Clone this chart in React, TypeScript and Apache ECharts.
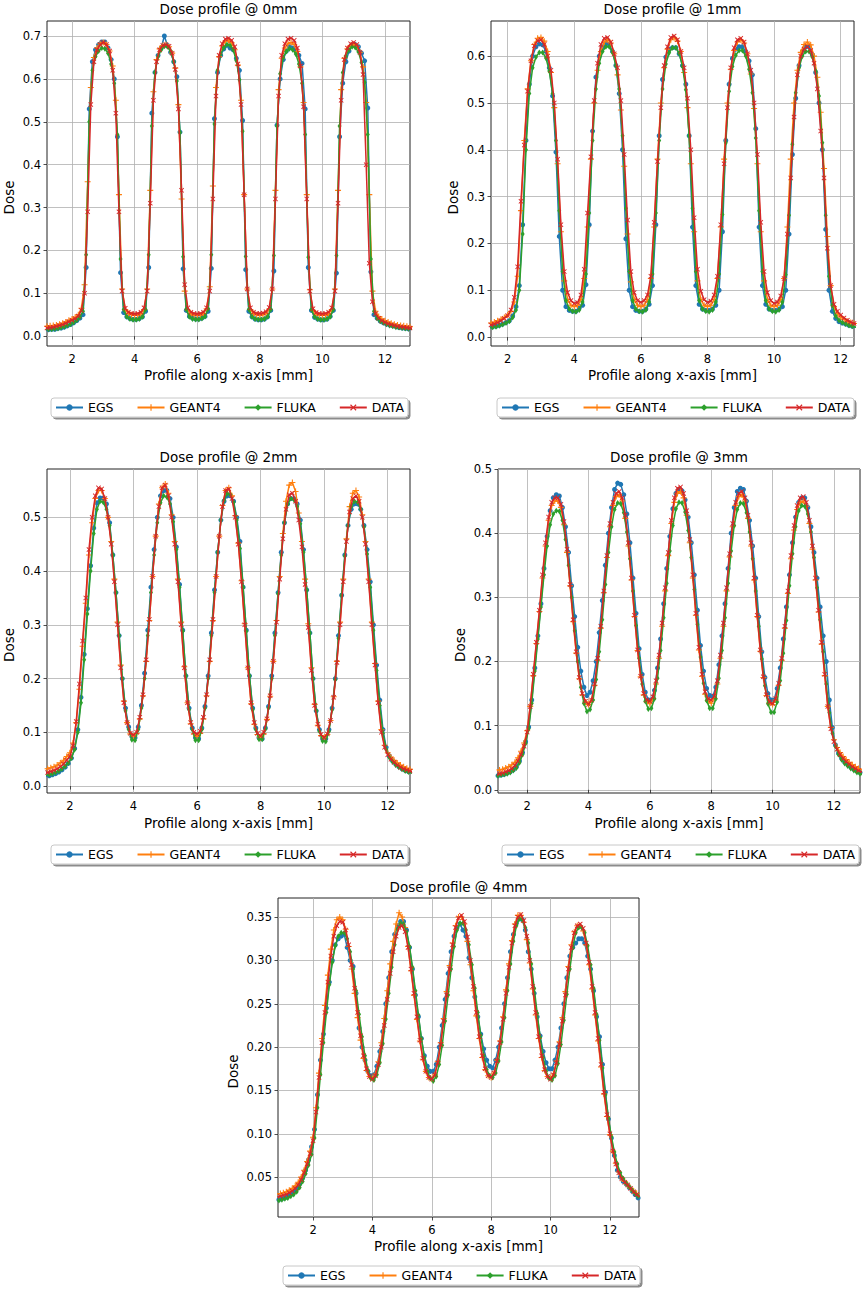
import React, { useEffect, useRef } from "react";
import * as echarts from "echarts";

// ---- sample positions along x (mm) ----
const X_A = [
  0.85, 0.95, 1.05, 1.15, 1.25, 1.35, 1.45, 1.55, 1.65, 1.75, 1.85, 1.95,
  2.05, 2.15, 2.25, 2.35, 2.45, 2.55, 2.65, 2.75, 2.85, 2.95, 3.05, 3.15, 3.25, 3.35, 3.45, 3.55, 3.65, 3.75, 3.85, 3.95,
  4.05, 4.15, 4.25, 4.35, 4.45, 4.55, 4.65, 4.75, 4.85, 4.95, 5.05, 5.15, 5.25, 5.35, 5.45, 5.55, 5.65, 5.75, 5.85, 5.95,
  6.05, 6.15, 6.25, 6.35, 6.45, 6.55, 6.65, 6.75, 6.85, 6.95, 7.05, 7.15, 7.25, 7.35, 7.45, 7.55, 7.65, 7.75, 7.85, 7.95,
  8.05, 8.15, 8.25, 8.35, 8.45, 8.55, 8.65, 8.75, 8.85, 8.95, 9.05, 9.15, 9.25, 9.35, 9.45, 9.55, 9.65, 9.75, 9.85, 9.95,
  10.05, 10.15, 10.25, 10.35, 10.45, 10.55, 10.65, 10.75, 10.85, 10.95, 11.05, 11.15, 11.25, 11.35, 11.45, 11.55, 11.65, 11.75, 11.85, 11.95,
  12.05, 12.15, 12.25, 12.35, 12.45, 12.55, 12.65, 12.75, 12.85, 12.95,
];
const X_B = [
  0.8, 0.9, 1.0, 1.1, 1.2, 1.3, 1.4, 1.5, 1.6, 1.7, 1.8, 1.9,
  2.0, 2.1, 2.2, 2.3, 2.4, 2.5, 2.6, 2.7, 2.8, 2.9, 3.0, 3.1, 3.2, 3.3, 3.4, 3.5, 3.6, 3.7, 3.8, 3.9,
  4.0, 4.1, 4.2, 4.3, 4.4, 4.5, 4.6, 4.7, 4.8, 4.9, 5.0, 5.1, 5.2, 5.3, 5.4, 5.5, 5.6, 5.7, 5.8, 5.9,
  6.0, 6.1, 6.2, 6.3, 6.4, 6.5, 6.6, 6.7, 6.8, 6.9, 7.0, 7.1, 7.2, 7.3, 7.4, 7.5, 7.6, 7.7, 7.8, 7.9,
  8.0, 8.1, 8.2, 8.3, 8.4, 8.5, 8.6, 8.7, 8.8, 8.9, 9.0, 9.1, 9.2, 9.3, 9.4, 9.5, 9.6, 9.7, 9.8, 9.9,
  10.0, 10.1, 10.2, 10.3, 10.4, 10.5, 10.6, 10.7, 10.8, 10.9, 11.0, 11.1, 11.2, 11.3, 11.4, 11.5, 11.6, 11.7, 11.8, 11.9,
  12.0, 12.1, 12.2, 12.3, 12.4, 12.5, 12.6, 12.7, 12.8, 12.9, 13.0,
];

// ---- Dose profile @ 0mm ----
const EGS_0MM = [
  0.013, 0.013, 0.014, 0.014, 0.015, 0.016, 0.016, 0.018, 0.019, 0.021, 0.024, 0.027,
  0.031, 0.036, 0.042, 0.05, 0.16, 0.53, 0.64, 0.668, 0.68, 0.686, 0.686, 0.672, 0.645, 0.6, 0.465, 0.148, 0.055, 0.045, 0.041, 0.039,
  0.039, 0.041, 0.045, 0.058, 0.16, 0.52, 0.615, 0.655, 0.672, 0.7, 0.678, 0.662, 0.64, 0.605, 0.476, 0.157, 0.06, 0.046, 0.042, 0.04,
  0.04, 0.042, 0.046, 0.058, 0.158, 0.507, 0.615, 0.655, 0.67, 0.678, 0.672, 0.668, 0.648, 0.62, 0.503, 0.155, 0.058, 0.045, 0.04, 0.038,
  0.038, 0.04, 0.045, 0.06, 0.152, 0.492, 0.6, 0.645, 0.665, 0.675, 0.672, 0.668, 0.655, 0.636, 0.53, 0.16, 0.06, 0.044, 0.04, 0.038,
  0.038, 0.04, 0.046, 0.06, 0.147, 0.465, 0.59, 0.64, 0.665, 0.678, 0.68, 0.675, 0.66, 0.642, 0.532, 0.15, 0.05, 0.042, 0.035, 0.031,
  0.028, 0.026, 0.024, 0.022, 0.02, 0.019, 0.018, 0.017, 0.016, 0.016,
];
const GEANT4_0MM = [
  0.02, 0.021, 0.022, 0.022, 0.023, 0.024, 0.025, 0.026, 0.028, 0.03, 0.033, 0.037,
  0.04, 0.044, 0.05, 0.065, 0.12, 0.36, 0.58, 0.65, 0.672, 0.682, 0.685, 0.68, 0.665, 0.63, 0.55, 0.33, 0.11, 0.062, 0.053, 0.05,
  0.048, 0.049, 0.052, 0.062, 0.11, 0.34, 0.57, 0.645, 0.67, 0.678, 0.68, 0.675, 0.66, 0.625, 0.54, 0.32, 0.105, 0.06, 0.052, 0.049,
  0.048, 0.049, 0.053, 0.064, 0.115, 0.35, 0.58, 0.652, 0.677, 0.688, 0.69, 0.684, 0.668, 0.632, 0.55, 0.33, 0.11, 0.062, 0.053, 0.05,
  0.049, 0.05, 0.053, 0.063, 0.11, 0.34, 0.575, 0.648, 0.672, 0.682, 0.685, 0.68, 0.664, 0.628, 0.545, 0.33, 0.108, 0.06, 0.052, 0.049,
  0.048, 0.049, 0.052, 0.062, 0.11, 0.34, 0.575, 0.648, 0.67, 0.678, 0.68, 0.676, 0.662, 0.628, 0.545, 0.33, 0.105, 0.058, 0.046, 0.04,
  0.036, 0.033, 0.03, 0.028, 0.026, 0.025, 0.024, 0.023, 0.022, 0.021, 0.02,
];
const FLUKA_0MM = [
  0.014, 0.014, 0.015, 0.015, 0.016, 0.016, 0.017, 0.018, 0.02, 0.022, 0.025, 0.028,
  0.032, 0.037, 0.044, 0.058, 0.19, 0.5, 0.62, 0.652, 0.665, 0.672, 0.67, 0.66, 0.635, 0.59, 0.47, 0.18, 0.062, 0.045, 0.04, 0.038,
  0.038, 0.04, 0.045, 0.062, 0.19, 0.49, 0.615, 0.652, 0.668, 0.676, 0.675, 0.665, 0.64, 0.595, 0.475, 0.185, 0.063, 0.045, 0.04, 0.039,
  0.039, 0.041, 0.046, 0.064, 0.19, 0.495, 0.62, 0.658, 0.673, 0.68, 0.678, 0.668, 0.643, 0.598, 0.478, 0.186, 0.063, 0.045, 0.04, 0.039,
  0.039, 0.04, 0.045, 0.062, 0.188, 0.49, 0.612, 0.65, 0.664, 0.67, 0.668, 0.658, 0.635, 0.59, 0.47, 0.184, 0.062, 0.045, 0.04, 0.038,
  0.038, 0.04, 0.045, 0.062, 0.188, 0.49, 0.615, 0.653, 0.668, 0.675, 0.673, 0.663, 0.638, 0.592, 0.47, 0.18, 0.058, 0.042, 0.035, 0.031,
  0.028, 0.025, 0.023, 0.021, 0.02, 0.019, 0.018, 0.017, 0.016, 0.016,
];
const DATA_0MM = [
  0.017, 0.017, 0.018, 0.018, 0.019, 0.02, 0.021, 0.023, 0.025, 0.027, 0.03, 0.034,
  0.037, 0.041, 0.047, 0.06, 0.1, 0.29, 0.54, 0.64, 0.668, 0.68, 0.685, 0.68, 0.665, 0.62, 0.52, 0.29, 0.105, 0.065, 0.056, 0.053,
  0.052, 0.053, 0.056, 0.066, 0.105, 0.31, 0.55, 0.64, 0.668, 0.678, 0.68, 0.676, 0.66, 0.622, 0.53, 0.34, 0.12, 0.066, 0.056, 0.053,
  0.052, 0.053, 0.056, 0.066, 0.105, 0.32, 0.56, 0.655, 0.682, 0.693, 0.695, 0.69, 0.675, 0.635, 0.54, 0.33, 0.11, 0.066, 0.056, 0.053,
  0.053, 0.054, 0.057, 0.067, 0.11, 0.32, 0.56, 0.655, 0.682, 0.693, 0.695, 0.69, 0.672, 0.63, 0.535, 0.32, 0.105, 0.064, 0.055, 0.053,
  0.052, 0.053, 0.056, 0.066, 0.105, 0.31, 0.55, 0.645, 0.672, 0.682, 0.685, 0.68, 0.662, 0.61, 0.4, 0.17, 0.08, 0.052, 0.042, 0.036,
  0.032, 0.029, 0.027, 0.025, 0.023, 0.022, 0.021, 0.02, 0.019, 0.018, 0.018,
];

// ---- Dose profile @ 1mm ----
const EGS_1MM = [
  0.016, 0.017, 0.017, 0.018, 0.019, 0.02, 0.021, 0.022, 0.023, 0.025, 0.028, 0.031,
  0.035, 0.045, 0.065, 0.11, 0.24, 0.42, 0.54, 0.6, 0.62, 0.626, 0.624, 0.61, 0.575, 0.515, 0.395, 0.215, 0.1, 0.065, 0.057, 0.055,
  0.055, 0.062, 0.068, 0.112, 0.24, 0.44, 0.555, 0.6, 0.62, 0.627, 0.625, 0.61, 0.58, 0.52, 0.4, 0.21, 0.1, 0.065, 0.057, 0.055,
  0.055, 0.06, 0.07, 0.11, 0.24, 0.43, 0.55, 0.598, 0.615, 0.618, 0.618, 0.605, 0.58, 0.54, 0.43, 0.235, 0.11, 0.07, 0.06, 0.057,
  0.057, 0.06, 0.068, 0.1, 0.225, 0.42, 0.54, 0.595, 0.615, 0.62, 0.62, 0.61, 0.59, 0.56, 0.445, 0.235, 0.11, 0.07, 0.06, 0.057,
  0.057, 0.06, 0.065, 0.1, 0.22, 0.39, 0.51, 0.58, 0.61, 0.62, 0.62, 0.603, 0.565, 0.5, 0.4, 0.23, 0.1, 0.055, 0.04, 0.033,
  0.03, 0.028, 0.025, 0.023, 0.021, 0.02, 0.019, 0.018, 0.017, 0.016,
];
const GEANT4_1MM = [
  0.024, 0.025, 0.025, 0.026, 0.027, 0.028, 0.029, 0.03, 0.032, 0.035, 0.038, 0.042,
  0.047, 0.055, 0.075, 0.13, 0.27, 0.42, 0.53, 0.59, 0.625, 0.638, 0.64, 0.632, 0.61, 0.565, 0.49, 0.37, 0.225, 0.12, 0.08, 0.068,
  0.065, 0.068, 0.08, 0.125, 0.235, 0.38, 0.5, 0.57, 0.61, 0.63, 0.635, 0.628, 0.605, 0.56, 0.485, 0.365, 0.22, 0.118, 0.08, 0.068,
  0.065, 0.068, 0.08, 0.125, 0.235, 0.38, 0.5, 0.575, 0.615, 0.635, 0.64, 0.632, 0.61, 0.565, 0.49, 0.37, 0.225, 0.12, 0.08, 0.068,
  0.065, 0.068, 0.08, 0.125, 0.235, 0.38, 0.5, 0.572, 0.612, 0.63, 0.635, 0.628, 0.605, 0.562, 0.488, 0.37, 0.225, 0.12, 0.08, 0.068,
  0.065, 0.068, 0.08, 0.125, 0.235, 0.38, 0.5, 0.57, 0.608, 0.625, 0.63, 0.624, 0.6, 0.555, 0.48, 0.36, 0.215, 0.11, 0.065, 0.05,
  0.043, 0.038, 0.034, 0.031, 0.029, 0.027, 0.026, 0.025, 0.024, 0.023, 0.022,
];
const FLUKA_1MM = [
  0.015, 0.016, 0.016, 0.017, 0.018, 0.019, 0.02, 0.021, 0.022, 0.024, 0.027, 0.03,
  0.034, 0.042, 0.058, 0.1, 0.22, 0.4, 0.52, 0.575, 0.598, 0.608, 0.608, 0.596, 0.568, 0.52, 0.42, 0.27, 0.14, 0.078, 0.06, 0.055,
  0.054, 0.058, 0.075, 0.135, 0.265, 0.42, 0.53, 0.585, 0.61, 0.62, 0.62, 0.608, 0.58, 0.53, 0.43, 0.275, 0.14, 0.078, 0.06, 0.055,
  0.054, 0.058, 0.075, 0.135, 0.265, 0.42, 0.53, 0.583, 0.607, 0.618, 0.618, 0.606, 0.578, 0.528, 0.43, 0.275, 0.14, 0.078, 0.06, 0.055,
  0.054, 0.058, 0.075, 0.135, 0.262, 0.415, 0.525, 0.578, 0.602, 0.612, 0.612, 0.6, 0.572, 0.522, 0.425, 0.27, 0.14, 0.078, 0.06, 0.055,
  0.054, 0.058, 0.075, 0.133, 0.26, 0.412, 0.522, 0.575, 0.6, 0.61, 0.61, 0.598, 0.568, 0.515, 0.415, 0.26, 0.13, 0.068, 0.045, 0.036,
  0.031, 0.028, 0.025, 0.023, 0.021, 0.02, 0.019, 0.018, 0.017, 0.016,
];
const DATA_1MM = [
  0.02, 0.021, 0.021, 0.022, 0.023, 0.024, 0.025, 0.026, 0.028, 0.031, 0.035, 0.04,
  0.046, 0.058, 0.085, 0.15, 0.29, 0.41, 0.525, 0.59, 0.622, 0.633, 0.635, 0.625, 0.6, 0.57, 0.5, 0.38, 0.24, 0.14, 0.095, 0.078,
  0.072, 0.074, 0.09, 0.145, 0.265, 0.385, 0.505, 0.585, 0.625, 0.638, 0.64, 0.63, 0.605, 0.575, 0.505, 0.39, 0.25, 0.14, 0.095, 0.078,
  0.074, 0.078, 0.09, 0.13, 0.245, 0.375, 0.49, 0.58, 0.62, 0.64, 0.643, 0.635, 0.61, 0.575, 0.51, 0.4, 0.255, 0.145, 0.098, 0.08,
  0.074, 0.077, 0.09, 0.13, 0.24, 0.37, 0.49, 0.575, 0.618, 0.635, 0.638, 0.63, 0.605, 0.57, 0.5, 0.39, 0.245, 0.14, 0.095, 0.078,
  0.072, 0.075, 0.088, 0.125, 0.22, 0.34, 0.47, 0.56, 0.6, 0.615, 0.62, 0.612, 0.585, 0.53, 0.44, 0.34, 0.19, 0.11, 0.07, 0.055,
  0.047, 0.041, 0.036, 0.032, 0.029, 0.027, 0.025, 0.024, 0.023, 0.022, 0.021,
];

// ---- Dose profile @ 2mm ----
const EGS_2MM = [
  0.014, 0.015, 0.016, 0.017, 0.018, 0.019, 0.021, 0.023, 0.026, 0.03, 0.035, 0.042,
  0.052, 0.07, 0.105, 0.165, 0.245, 0.33, 0.41, 0.48, 0.527, 0.536, 0.536, 0.525, 0.49, 0.43, 0.36, 0.28, 0.2, 0.145, 0.11, 0.092,
  0.09, 0.11, 0.15, 0.21, 0.29, 0.37, 0.44, 0.5, 0.54, 0.55, 0.55, 0.535, 0.5, 0.445, 0.375, 0.29, 0.205, 0.145, 0.108, 0.09,
  0.088, 0.108, 0.148, 0.205, 0.285, 0.365, 0.435, 0.495, 0.53, 0.54, 0.54, 0.53, 0.5, 0.455, 0.37, 0.29, 0.205, 0.145, 0.108, 0.09,
  0.088, 0.108, 0.148, 0.205, 0.285, 0.36, 0.435, 0.49, 0.525, 0.535, 0.535, 0.525, 0.495, 0.44, 0.365, 0.285, 0.2, 0.14, 0.105, 0.088,
  0.088, 0.105, 0.145, 0.2, 0.28, 0.355, 0.43, 0.485, 0.515, 0.525, 0.525, 0.515, 0.485, 0.44, 0.38, 0.3, 0.225, 0.16, 0.105, 0.072,
  0.056, 0.047, 0.041, 0.036, 0.032, 0.029, 0.027, 0.025, 0.023, 0.022,
];
const GEANT4_2MM = [
  0.028, 0.029, 0.03, 0.03, 0.031, 0.032, 0.034, 0.036, 0.039, 0.043, 0.048, 0.055,
  0.062, 0.08, 0.118, 0.18, 0.26, 0.34, 0.43, 0.49, 0.535, 0.55, 0.55, 0.535, 0.5, 0.455, 0.385, 0.305, 0.225, 0.158, 0.118, 0.097,
  0.092, 0.098, 0.125, 0.168, 0.232, 0.308, 0.39, 0.465, 0.525, 0.555, 0.562, 0.545, 0.505, 0.455, 0.385, 0.305, 0.222, 0.155, 0.116, 0.097,
  0.092, 0.098, 0.125, 0.168, 0.232, 0.308, 0.39, 0.465, 0.522, 0.55, 0.555, 0.54, 0.503, 0.452, 0.382, 0.302, 0.22, 0.153, 0.115, 0.096,
  0.09, 0.097, 0.124, 0.167, 0.232, 0.308, 0.39, 0.47, 0.53, 0.56, 0.565, 0.548, 0.508, 0.455, 0.385, 0.302, 0.22, 0.152, 0.113, 0.094,
  0.09, 0.096, 0.122, 0.166, 0.232, 0.305, 0.385, 0.46, 0.52, 0.545, 0.55, 0.538, 0.505, 0.455, 0.385, 0.305, 0.228, 0.158, 0.105, 0.076,
  0.062, 0.054, 0.048, 0.043, 0.039, 0.036, 0.033, 0.031, 0.029, 0.028, 0.027,
];
const FLUKA_2MM = [
  0.016, 0.017, 0.018, 0.019, 0.02, 0.021, 0.023, 0.025, 0.028, 0.032, 0.037, 0.043,
  0.052, 0.068, 0.1, 0.155, 0.235, 0.32, 0.4, 0.47, 0.515, 0.53, 0.528, 0.515, 0.485, 0.43, 0.36, 0.28, 0.2, 0.14, 0.105, 0.086,
  0.085, 0.105, 0.145, 0.2, 0.28, 0.36, 0.43, 0.49, 0.527, 0.54, 0.538, 0.525, 0.492, 0.44, 0.37, 0.288, 0.205, 0.142, 0.105, 0.085,
  0.085, 0.105, 0.145, 0.2, 0.28, 0.36, 0.435, 0.495, 0.532, 0.545, 0.542, 0.528, 0.495, 0.442, 0.37, 0.288, 0.205, 0.142, 0.105, 0.087,
  0.087, 0.106, 0.145, 0.2, 0.28, 0.358, 0.43, 0.49, 0.525, 0.535, 0.533, 0.52, 0.488, 0.435, 0.365, 0.285, 0.2, 0.14, 0.102, 0.084,
  0.083, 0.102, 0.142, 0.198, 0.275, 0.355, 0.428, 0.485, 0.52, 0.53, 0.528, 0.515, 0.482, 0.432, 0.37, 0.29, 0.215, 0.15, 0.098, 0.068,
  0.053, 0.045, 0.039, 0.035, 0.031, 0.028, 0.026, 0.024, 0.022, 0.021,
];
const DATA_2MM = [
  0.02, 0.021, 0.022, 0.023, 0.024, 0.025, 0.027, 0.029, 0.032, 0.036, 0.041, 0.048,
  0.055, 0.075, 0.12, 0.19, 0.27, 0.35, 0.44, 0.5, 0.54, 0.555, 0.553, 0.535, 0.5, 0.45, 0.38, 0.3, 0.22, 0.155, 0.118, 0.098,
  0.095, 0.1, 0.128, 0.17, 0.235, 0.31, 0.39, 0.465, 0.52, 0.555, 0.56, 0.54, 0.5, 0.45, 0.38, 0.3, 0.22, 0.155, 0.118, 0.1,
  0.097, 0.102, 0.128, 0.17, 0.235, 0.31, 0.39, 0.465, 0.52, 0.55, 0.553, 0.535, 0.5, 0.45, 0.38, 0.3, 0.22, 0.155, 0.118, 0.098,
  0.093, 0.1, 0.125, 0.168, 0.232, 0.305, 0.385, 0.46, 0.515, 0.542, 0.545, 0.53, 0.495, 0.445, 0.375, 0.295, 0.215, 0.15, 0.115, 0.096,
  0.09, 0.097, 0.122, 0.165, 0.23, 0.3, 0.38, 0.455, 0.51, 0.535, 0.54, 0.53, 0.5, 0.45, 0.38, 0.3, 0.225, 0.155, 0.1, 0.072,
  0.058, 0.05, 0.044, 0.039, 0.035, 0.032, 0.03, 0.028, 0.026, 0.025, 0.024,
];

// ---- Dose profile @ 3mm ----
const EGS_3MM = [
  0.02, 0.021, 0.022, 0.023, 0.024, 0.026, 0.028, 0.031, 0.036, 0.045, 0.058, 0.075,
  0.098, 0.14, 0.19, 0.24, 0.29, 0.345, 0.395, 0.435, 0.455, 0.46, 0.458, 0.44, 0.41, 0.37, 0.318, 0.27, 0.222, 0.185, 0.16, 0.147,
  0.152, 0.17, 0.2, 0.245, 0.295, 0.35, 0.4, 0.44, 0.468, 0.478, 0.476, 0.46, 0.43, 0.385, 0.33, 0.275, 0.22, 0.18, 0.152, 0.14,
  0.14, 0.155, 0.19, 0.235, 0.29, 0.345, 0.395, 0.438, 0.462, 0.468, 0.466, 0.452, 0.425, 0.385, 0.335, 0.28, 0.225, 0.185, 0.158, 0.147,
  0.145, 0.16, 0.195, 0.24, 0.29, 0.345, 0.4, 0.44, 0.465, 0.47, 0.468, 0.45, 0.42, 0.38, 0.33, 0.27, 0.215, 0.175, 0.15, 0.14,
  0.14, 0.158, 0.19, 0.235, 0.285, 0.335, 0.385, 0.425, 0.448, 0.455, 0.455, 0.44, 0.41, 0.37, 0.33, 0.285, 0.24, 0.2, 0.14, 0.097,
  0.07, 0.057, 0.049, 0.043, 0.039, 0.035, 0.032, 0.029, 0.027, 0.025,
];
const GEANT4_3MM = [
  0.028, 0.029, 0.03, 0.031, 0.032, 0.034, 0.036, 0.039, 0.043, 0.05, 0.06, 0.073,
  0.092, 0.13, 0.178, 0.228, 0.278, 0.33, 0.38, 0.42, 0.443, 0.45, 0.45, 0.44, 0.413, 0.37, 0.318, 0.262, 0.213, 0.173, 0.148, 0.137,
  0.133, 0.14, 0.163, 0.202, 0.252, 0.307, 0.362, 0.41, 0.443, 0.457, 0.46, 0.45, 0.423, 0.38, 0.327, 0.27, 0.217, 0.176, 0.148, 0.137,
  0.134, 0.141, 0.165, 0.205, 0.255, 0.31, 0.365, 0.415, 0.448, 0.462, 0.465, 0.455, 0.428, 0.385, 0.33, 0.272, 0.218, 0.177, 0.149, 0.138,
  0.135, 0.142, 0.165, 0.205, 0.255, 0.31, 0.363, 0.41, 0.443, 0.457, 0.46, 0.45, 0.423, 0.38, 0.327, 0.27, 0.216, 0.175, 0.147, 0.136,
  0.133, 0.14, 0.163, 0.202, 0.252, 0.306, 0.36, 0.405, 0.437, 0.448, 0.45, 0.442, 0.415, 0.375, 0.327, 0.277, 0.227, 0.178, 0.13, 0.097,
  0.078, 0.066, 0.058, 0.052, 0.047, 0.043, 0.039, 0.036, 0.033, 0.031, 0.029,
];
const FLUKA_3MM = [
  0.02, 0.021, 0.022, 0.023, 0.024, 0.025, 0.027, 0.03, 0.034, 0.042, 0.055, 0.072,
  0.095, 0.135, 0.185, 0.235, 0.285, 0.335, 0.38, 0.413, 0.43, 0.435, 0.434, 0.42, 0.39, 0.35, 0.3, 0.248, 0.2, 0.16, 0.135, 0.122,
  0.125, 0.14, 0.172, 0.215, 0.265, 0.32, 0.37, 0.41, 0.437, 0.447, 0.446, 0.432, 0.402, 0.36, 0.31, 0.256, 0.205, 0.165, 0.138, 0.126,
  0.127, 0.142, 0.174, 0.217, 0.268, 0.322, 0.372, 0.412, 0.438, 0.448, 0.447, 0.433, 0.404, 0.362, 0.312, 0.258, 0.207, 0.166, 0.139, 0.127,
  0.127, 0.142, 0.174, 0.217, 0.268, 0.322, 0.372, 0.412, 0.437, 0.447, 0.446, 0.432, 0.402, 0.36, 0.31, 0.255, 0.204, 0.162, 0.134, 0.121,
  0.121, 0.137, 0.17, 0.213, 0.264, 0.318, 0.368, 0.41, 0.435, 0.443, 0.442, 0.43, 0.402, 0.362, 0.315, 0.265, 0.215, 0.165, 0.12, 0.088,
  0.068, 0.055, 0.047, 0.041, 0.037, 0.033, 0.03, 0.027, 0.025, 0.023,
];
const DATA_3MM = [
  0.022, 0.023, 0.024, 0.025, 0.026, 0.028, 0.03, 0.033, 0.038, 0.045, 0.055, 0.068,
  0.09, 0.13, 0.18, 0.23, 0.28, 0.335, 0.385, 0.425, 0.448, 0.455, 0.455, 0.445, 0.418, 0.375, 0.32, 0.265, 0.215, 0.175, 0.15, 0.138,
  0.133, 0.14, 0.165, 0.205, 0.255, 0.31, 0.365, 0.415, 0.448, 0.462, 0.465, 0.455, 0.428, 0.385, 0.33, 0.272, 0.218, 0.177, 0.15, 0.14,
  0.138, 0.145, 0.17, 0.21, 0.26, 0.315, 0.37, 0.42, 0.455, 0.47, 0.472, 0.462, 0.435, 0.39, 0.335, 0.275, 0.222, 0.18, 0.153, 0.142,
  0.14, 0.146, 0.17, 0.21, 0.26, 0.315, 0.368, 0.415, 0.448, 0.462, 0.465, 0.455, 0.428, 0.385, 0.33, 0.272, 0.218, 0.176, 0.148, 0.137,
  0.134, 0.142, 0.166, 0.205, 0.255, 0.31, 0.365, 0.412, 0.443, 0.455, 0.457, 0.448, 0.42, 0.38, 0.33, 0.28, 0.23, 0.18, 0.13, 0.095,
  0.075, 0.063, 0.055, 0.049, 0.044, 0.04, 0.036, 0.033, 0.03, 0.028, 0.026,
];

// ---- Dose profile @ 4mm ----
const EGS_4MM = [
  0.024, 0.025, 0.026, 0.028, 0.03, 0.033, 0.037, 0.042, 0.049, 0.058, 0.07, 0.085,
  0.105, 0.145, 0.185, 0.215, 0.245, 0.275, 0.3, 0.318, 0.325, 0.328, 0.33, 0.315, 0.3, 0.293, 0.262, 0.222, 0.2, 0.185, 0.172, 0.167,
  0.168, 0.178, 0.195, 0.218, 0.25, 0.28, 0.31, 0.33, 0.34, 0.345, 0.345, 0.335, 0.315, 0.29, 0.26, 0.235, 0.21, 0.19, 0.178, 0.172,
  0.172, 0.18, 0.2, 0.225, 0.255, 0.285, 0.31, 0.328, 0.338, 0.342, 0.335, 0.328, 0.303, 0.28, 0.258, 0.235, 0.215, 0.198, 0.185, 0.178,
  0.176, 0.185, 0.2, 0.222, 0.25, 0.28, 0.31, 0.33, 0.343, 0.348, 0.347, 0.335, 0.31, 0.29, 0.262, 0.235, 0.213, 0.195, 0.182, 0.175,
  0.175, 0.185, 0.2, 0.222, 0.25, 0.28, 0.305, 0.315, 0.32, 0.325, 0.325, 0.32, 0.305, 0.29, 0.265, 0.235, 0.212, 0.18, 0.148, 0.117,
  0.095, 0.075, 0.058, 0.05, 0.045, 0.042, 0.038, 0.034, 0.03, 0.026,
];
const GEANT4_4MM = [
  0.03, 0.031, 0.032, 0.033, 0.035, 0.037, 0.04, 0.044, 0.05, 0.058, 0.068, 0.08,
  0.096, 0.13, 0.17, 0.21, 0.248, 0.283, 0.313, 0.335, 0.347, 0.35, 0.347, 0.336, 0.316, 0.29, 0.262, 0.234, 0.208, 0.187, 0.173, 0.166,
  0.164, 0.169, 0.183, 0.205, 0.233, 0.265, 0.296, 0.322, 0.342, 0.355, 0.35, 0.338, 0.316, 0.288, 0.26, 0.232, 0.207, 0.186, 0.172, 0.165,
  0.163, 0.168, 0.183, 0.205, 0.233, 0.264, 0.294, 0.32, 0.34, 0.35, 0.35, 0.342, 0.322, 0.295, 0.265, 0.236, 0.21, 0.188, 0.174, 0.167,
  0.165, 0.17, 0.185, 0.207, 0.235, 0.266, 0.296, 0.323, 0.342, 0.352, 0.352, 0.344, 0.324, 0.297, 0.267, 0.237, 0.21, 0.188, 0.173, 0.166,
  0.164, 0.169, 0.184, 0.206, 0.234, 0.264, 0.293, 0.318, 0.333, 0.34, 0.34, 0.334, 0.318, 0.295, 0.267, 0.237, 0.207, 0.177, 0.146, 0.12,
  0.099, 0.08, 0.066, 0.056, 0.049, 0.045, 0.041, 0.037, 0.034, 0.031, 0.028,
];
const FLUKA_4MM = [
  0.023, 0.024, 0.025, 0.026, 0.028, 0.03, 0.033, 0.038, 0.045, 0.054, 0.064, 0.076,
  0.095, 0.13, 0.168, 0.205, 0.24, 0.272, 0.298, 0.317, 0.328, 0.332, 0.332, 0.325, 0.31, 0.29, 0.265, 0.238, 0.212, 0.19, 0.173, 0.164,
  0.162, 0.168, 0.182, 0.204, 0.232, 0.262, 0.292, 0.318, 0.336, 0.343, 0.342, 0.333, 0.316, 0.292, 0.265, 0.237, 0.21, 0.188, 0.172, 0.164,
  0.161, 0.166, 0.18, 0.202, 0.23, 0.26, 0.29, 0.316, 0.335, 0.343, 0.343, 0.335, 0.318, 0.295, 0.268, 0.24, 0.213, 0.19, 0.174, 0.167,
  0.165, 0.17, 0.184, 0.206, 0.234, 0.265, 0.296, 0.322, 0.34, 0.348, 0.347, 0.338, 0.32, 0.296, 0.268, 0.239, 0.211, 0.188, 0.172, 0.164,
  0.162, 0.167, 0.181, 0.203, 0.231, 0.261, 0.29, 0.315, 0.332, 0.338, 0.338, 0.332, 0.317, 0.295, 0.268, 0.238, 0.208, 0.176, 0.145, 0.118,
  0.097, 0.079, 0.065, 0.055, 0.048, 0.043, 0.039, 0.035, 0.031, 0.028,
];
const DATA_4MM = [
  0.027, 0.028, 0.029, 0.03, 0.032, 0.034, 0.037, 0.041, 0.047, 0.055, 0.065, 0.077,
  0.092, 0.125, 0.165, 0.205, 0.24, 0.275, 0.305, 0.328, 0.34, 0.345, 0.344, 0.335, 0.318, 0.295, 0.268, 0.24, 0.213, 0.19, 0.175, 0.166,
  0.163, 0.167, 0.18, 0.2, 0.225, 0.255, 0.285, 0.31, 0.328, 0.338, 0.34, 0.333, 0.315, 0.29, 0.262, 0.235, 0.208, 0.187, 0.172, 0.165,
  0.163, 0.168, 0.182, 0.203, 0.23, 0.26, 0.29, 0.318, 0.338, 0.349, 0.352, 0.345, 0.327, 0.3, 0.27, 0.24, 0.212, 0.19, 0.175, 0.167,
  0.165, 0.17, 0.184, 0.205, 0.232, 0.262, 0.292, 0.32, 0.34, 0.35, 0.353, 0.346, 0.328, 0.3, 0.27, 0.24, 0.212, 0.19, 0.174, 0.166,
  0.163, 0.168, 0.182, 0.203, 0.23, 0.26, 0.29, 0.315, 0.332, 0.34, 0.342, 0.337, 0.32, 0.298, 0.27, 0.24, 0.21, 0.18, 0.148, 0.122,
  0.1, 0.08, 0.065, 0.055, 0.048, 0.044, 0.041, 0.037, 0.033, 0.03, 0.027,
];

// ---- labels / ranges / ticks ----
const SERIES_NAMES = ["EGS", "GEANT4", "FLUKA", "DATA"];
const PANEL_TITLES = ["Dose profile @ 0mm", "Dose profile @ 1mm", "Dose profile @ 2mm", "Dose profile @ 3mm", "Dose profile @ 4mm"];
const X_LABEL = "Profile along x-axis [mm]";
const Y_LABEL = "Dose";
const X_RANGES = [[1.2, 12.8], [1.5, 12.4], [1.28, 12.7], [1.05, 12.85], [0.82, 12.98]];
const Y_RANGES = [[-0.023, 0.735], [-0.019, 0.675], [-0.013, 0.59], [-0.005, 0.5], [0.004, 0.372]];
const X_TICKS = [2, 4, 6, 8, 10, 12];
const Y_TICKS_0MM = [0.0, 0.1, 0.2, 0.3, 0.4, 0.5, 0.6, 0.7];
const Y_TICKS_1MM = [0.0, 0.1, 0.2, 0.3, 0.4, 0.5, 0.6];
const Y_TICKS_2MM = [0.0, 0.1, 0.2, 0.3, 0.4, 0.5];
const Y_TICKS_3MM = [0.0, 0.1, 0.2, 0.3, 0.4, 0.5];
const Y_TICKS_4MM = [0.05, 0.1, 0.15, 0.2, 0.25, 0.3, 0.35];
const Y_TICKS = [Y_TICKS_0MM, Y_TICKS_1MM, Y_TICKS_2MM, Y_TICKS_3MM, Y_TICKS_4MM];
const Y_STEPS = [0.1, 0.1, 0.1, 0.1, 0.05];
const X_STEP = 2;
const PANEL_SERIES = [
  [EGS_0MM, GEANT4_0MM, FLUKA_0MM, DATA_0MM],
  [EGS_1MM, GEANT4_1MM, FLUKA_1MM, DATA_1MM],
  [EGS_2MM, GEANT4_2MM, FLUKA_2MM, DATA_2MM],
  [EGS_3MM, GEANT4_3MM, FLUKA_3MM, DATA_3MM],
  [EGS_4MM, GEANT4_4MM, FLUKA_4MM, DATA_4MM],
];
const SERIES_X = [X_A, X_B, X_A, X_B];

// ---- layout & style (not data) ----
const LAYOUT = [
  { left: 47, top: 21, width: 363, height: 325, titleY: 9, xNameY: 375, yNameX: 9, legendLeft: 51, legendTop: 398 },
  { left: 491, top: 21, width: 363, height: 325, titleY: 9, xNameY: 375, yNameX: 453, legendLeft: 497, legendTop: 398 },
  { left: 47, top: 469, width: 363, height: 324, titleY: 457, xNameY: 823, yNameX: 9, legendLeft: 51, legendTop: 845 },
  { left: 498, top: 469, width: 362, height: 324, titleY: 457, xNameY: 823, yNameX: 460, legendLeft: 502, legendTop: 845 },
  { left: 278, top: 898, width: 361, height: 319, titleY: 887, xNameY: 1246, yNameX: 233, legendLeft: 283, legendTop: 1266 },
];
const FONT = "DejaVu Sans";
const PLUS_PATH = "path://M4.1,0H5.9V4.1H10V5.9H5.9V10H4.1V5.9H0V4.1H4.1Z";
const CROSS_PATH = "path://M1.3,0L5,3.7L8.7,0L10,1.3L6.3,5L10,8.7L8.7,10L5,6.3L1.3,10L0,8.7L3.7,5L0,1.3Z";
const SERIES_STYLE = [
  { color: "#1f77b4", symbol: "circle", symbolSize: 5 },
  { color: "#ff7f0e", symbol: PLUS_PATH, symbolSize: 6 },
  { color: "#2ca02c", symbol: "diamond", symbolSize: [4, 6] },
  { color: "#d62728", symbol: CROSS_PATH, symbolSize: 5 },
];

const isMultiple = (v: number, step: number) => Math.abs(v / step - Math.round(v / step)) < 1e-6;

function buildOption() {
  const grid: any[] = [];
  const xAxis: any[] = [];
  const yAxis: any[] = [];
  const series: any[] = [];
  const legend: any[] = [];
  const texts: any[] = [];
  const textStyle = (text: string) => ({
    text,
    fontSize: 13.5,
    fontWeight: "normal",
    fontFamily: FONT,
    fill: "#000",
    align: "center",
    verticalAlign: "middle",
    textAlign: "center",
    textVerticalAlign: "middle",
  });

  LAYOUT.forEach((L, i) => {
    grid.push({
      left: L.left, top: L.top, width: L.width, height: L.height,
      show: true, borderColor: "#222", borderWidth: 1, backgroundColor: "rgba(0,0,0,0)",
      containLabel: false,
    });
    xAxis.push({
      type: "value", gridIndex: i, min: X_RANGES[i][0], max: X_RANGES[i][1],
      minInterval: X_STEP, maxInterval: X_STEP, splitNumber: 6,
      axisLine: { show: false },
      axisTick: { show: true, inside: false, length: 3.5, customValues: X_TICKS, lineStyle: { color: "#222", width: 0.8 } },
      axisLabel: {
        show: true, margin: 7, fontSize: 11.5, fontFamily: FONT, color: "#000", customValues: X_TICKS,
        formatter: (v: number) => (isMultiple(v, X_STEP) ? String(Math.round(v)) : ""),
      },
      splitLine: { show: true, lineStyle: { color: "#b0b0b0", width: 0.8 } },
    });
    const ys = Y_STEPS[i];
    const dec = ys < 0.1 ? 2 : 1;
    yAxis.push({
      type: "value", gridIndex: i, min: Y_RANGES[i][0], max: Y_RANGES[i][1],
      minInterval: ys, maxInterval: ys, splitNumber: 8,
      axisLine: { show: false },
      axisTick: { show: true, inside: false, length: 3.5, customValues: Y_TICKS[i], lineStyle: { color: "#222", width: 0.8 } },
      axisLabel: {
        show: true, margin: 6, fontSize: 11.5, fontFamily: FONT, color: "#000", customValues: Y_TICKS[i],
        formatter: (v: number) => (isMultiple(v, ys) ? (Math.round(v / ys) * ys).toFixed(dec) : ""),
      },
      splitLine: { show: true, lineStyle: { color: "#b0b0b0", width: 0.8 } },
    });
    PANEL_SERIES[i].forEach((vals, k) => {
      const st = SERIES_STYLE[k];
      const xs = SERIES_X[k];
      series.push({
        type: "line",
        name: SERIES_NAMES[k],
        xAxisIndex: i,
        yAxisIndex: i,
        data: vals.map((y, j) => [xs[j], y]),
        symbol: st.symbol,
        symbolSize: st.symbolSize,
        showSymbol: true,
        clip: true,
        silent: true,
        lineStyle: { color: st.color, width: 1.5 },
        itemStyle: { color: st.color, borderWidth: 0 },
        emphasis: { disabled: true },
        z: 2 + k,
      });
    });
    legend.push({
      left: L.legendLeft, top: L.legendTop, orient: "horizontal",
      data: SERIES_NAMES, itemWidth: 27, itemHeight: 8, itemGap: 23, padding: [3, 4],
      textStyle: { fontSize: 12.5, fontFamily: FONT, color: "#000" },
      backgroundColor: "#fff", borderColor: "#c8c8c8", borderWidth: 1, borderRadius: 3,
      shadowColor: "rgba(0,0,0,0.45)", shadowOffsetX: 2, shadowOffsetY: 2, shadowBlur: 1,
      selectedMode: false,
    });
    const cx = L.left + L.width / 2;
    texts.push({ type: "text", x: cx, y: L.titleY, silent: true, style: textStyle(PANEL_TITLES[i]) });
    texts.push({ type: "text", x: cx, y: L.xNameY, silent: true, style: textStyle(X_LABEL) });
    texts.push({
      type: "text", x: L.yNameX, y: L.top + L.height / 2 + 14, rotation: Math.PI / 2, silent: true,
      style: textStyle(Y_LABEL),
    });
  });

  return {
    animation: false,
    backgroundColor: "#ffffff",
    grid, xAxis, yAxis, series, legend,
    tooltip: { show: false },
    graphic: { elements: texts },
  };
}

export default function App() {
  const ref = useRef<HTMLDivElement>(null);
  useEffect(() => {
    document.body.style.margin = "0";
    if (!ref.current) return;
    const chart = echarts.init(ref.current, undefined, { renderer: "svg" });
    chart.setOption(buildOption() as any);
    return () => chart.dispose();
  }, []);
  return <div ref={ref} style={{ width: 865, height: 1293, background: "#fff" }} />;
}
